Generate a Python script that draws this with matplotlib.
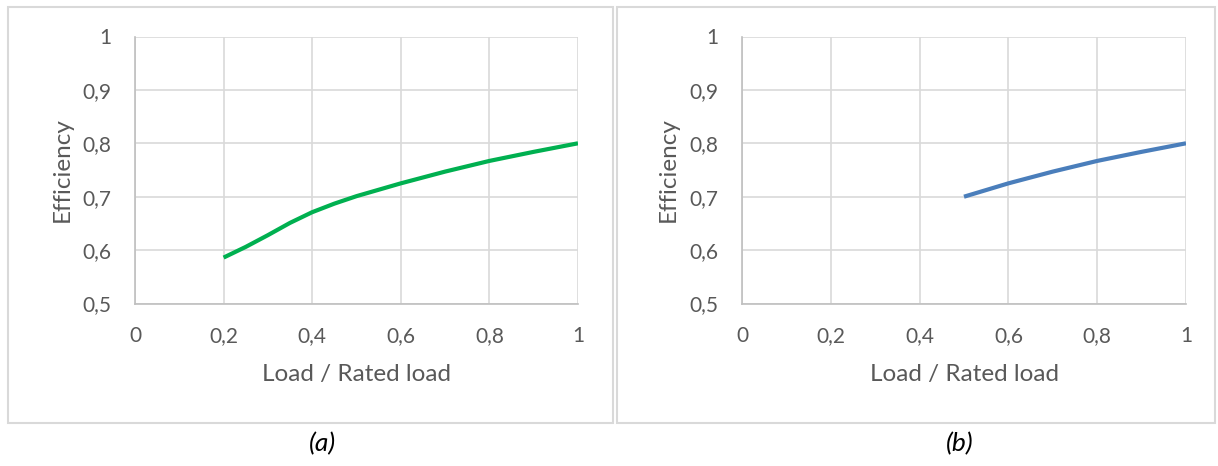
import matplotlib
matplotlib.use("Agg")
import matplotlib.pyplot as plt
from matplotlib.patches import Rectangle

# ---- data ----
load_a = [0.2, 0.25, 0.3, 0.35, 0.4, 0.45, 0.5, 0.6, 0.7, 0.8, 0.9, 1.0]
eff_a = [0.586, 0.606, 0.628, 0.651, 0.671, 0.687, 0.701, 0.725, 0.747, 0.767, 0.784, 0.800]
load_b = [0.5, 0.6, 0.7, 0.8, 0.9, 1.0]
eff_b = [0.700, 0.725, 0.747, 0.767, 0.784, 0.800]
x_ticks = [0, 0.2, 0.4, 0.6, 0.8, 1.0]
x_ticklabels = ["0", "0,2", "0,4", "0,6", "0,8", "1"]
y_ticks = [0.5, 0.6, 0.7, 0.8, 0.9, 1.0]
y_ticklabels = ["0,5", "0,6", "0,7", "0,8", "0,9", "1"]
captions = ["(a)", "(b)"]

plt.rcParams['font.family'] = ['Lato', 'DejaVu Sans']

W, H = 1218, 466
fig = plt.figure(figsize=(W / 100, H / 100), dpi=100)

GRID = "#d9d9d9"
TXT = "#595959"

def fx(px):
    return px / W

def fy(py):
    return 1 - py / H

# panel borders
for (x0, x1) in [(8, 613), (617, 1215)]:
    fig.patches.append(Rectangle((fx(x0), fy(423)), fx(x1 - x0), (423 - 7) / H,
                                 transform=fig.transFigure, fill=False,
                                 edgecolor=GRID, linewidth=1.5))

panels = [
    (135, 578, load_a, eff_a, "#00b050", captions[0], 322, 62),
    (742, 1186, load_b, eff_b, "#4a7ebb", captions[1], 960, 668),
]
top, bottom = 36.5, 303.5
for (left, right, xs, ys, color, cap, capx, ylx) in panels:
    ax = fig.add_axes([fx(left), fy(bottom), fx(right - left), (bottom - top) / H])
    ax.plot(xs, ys, color=color, linewidth=3.0, solid_capstyle='butt',
            solid_joinstyle='round', zorder=3)
    ax.set_xlim(0, 1)
    ax.set_ylim(0.5, 1)
    ax.set_xticks(x_ticks)
    ax.set_xticklabels(x_ticklabels)
    ax.set_yticks(y_ticks)
    ax.set_yticklabels(y_ticklabels)
    ax.grid(True, color=GRID, linewidth=1.2)
    ax.set_axisbelow(True)
    for s in ["top", "right"]:
        ax.spines[s].set_visible(False)
    for s in ["left", "bottom"]:
        ax.spines[s].set_color("#bfbfbf")
        ax.spines[s].set_linewidth(1.2)
    ax.tick_params(length=0, labelsize=15, labelcolor=TXT)
    ax.tick_params(axis='x', pad=16)
    ax.tick_params(axis='y', pad=17)
    ax.set_xlabel("Load / Rated load", fontsize=17.5, color=TXT)
    ax.xaxis.set_label_coords(0.5, (bottom - 375) / (bottom - top))
    ax.xaxis.label.set_va('center')
    ax.set_ylabel("Efficiency", fontsize=17.5, color=TXT)
    ax.yaxis.set_label_coords((ylx - left) / (right - left), 0.5)
    ax.yaxis.label.set_va('center')
    fig.text(fx(capx), fy(444), cap, fontsize=19, style='italic',
             color='black', ha='center', va='center')

fig.savefig("out.png", dpi=100, facecolor="white")
